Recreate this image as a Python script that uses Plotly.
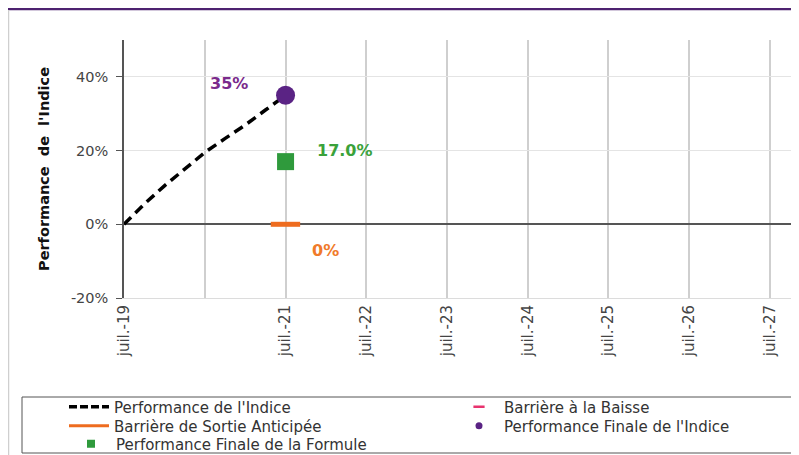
import plotly.graph_objects as go

# Data
index_dates = ["2019-07-01", "2019-10-01", "2020-01-01", "2020-04-01", "2020-07-01",
               "2020-10-01", "2021-01-01", "2021-04-01", "2021-07-01"]
index_perf = [0, 5.5, 10.5, 15.0, 19.5, 23.3, 27.0, 31.0, 35.0]

barrier_exit_dates = ["2021-04-25", "2021-09-05"]
barrier_exit_values = [0, 0]

barrier_down_dates = ["2026-07-01"]
barrier_down_values = [-40]

final_date = ["2021-07-01"]
final_index = [35]
final_formula = [17.0]

tick_vals = ["2019-07-01", "2020-07-01", "2021-07-01", "2022-07-01", "2023-07-01",
             "2024-07-01", "2025-07-01", "2026-07-01", "2027-07-01"]
tick_text = ["juil.-19", "", "juil.-21", "juil.-22", "juil.-23",
             "juil.-24", "juil.-25", "juil.-26", "juil.-27"]

purple = "#5a2384"
green = "#2f9a3c"
orange = "#ee6c1f"
pink = "#e8336e"

# page has an 8px body margin: figure is 791x447, page coords = figure coords + 8
OFF = 8
W, H = 799 - OFF, 455 - OFF
L, R, T = 124 - OFF, 2, 40 - OFF
B = H - (298 - OFF)
PW, PH = W - L - R, H - T - B


def fx(p):
    """page pixel x -> paper x"""
    return (p - OFF - L) / PW


def fy(p):
    """page pixel y -> paper y"""
    return (H - B - (p - OFF)) / PH


fig = go.Figure()
# data traces (legend drawn by proxy entries below)
fig.add_trace(go.Scatter(x=index_dates, y=index_perf, mode="lines", showlegend=False,
                         line=dict(color="black", width=3.5, dash="10px,6px")))
fig.add_trace(go.Scatter(x=barrier_down_dates, y=barrier_down_values, mode="markers", showlegend=False,
                         marker=dict(symbol="line-ew-open", size=9, color=pink,
                                     line=dict(color=pink, width=2.5))))
fig.add_trace(go.Scatter(x=barrier_exit_dates, y=barrier_exit_values, mode="lines", showlegend=False,
                         line=dict(color=orange, width=5)))
fig.add_trace(go.Scatter(x=final_date, y=final_index, mode="markers", showlegend=False,
                         marker=dict(symbol="circle", size=19, color=purple)))
fig.add_trace(go.Scatter(x=final_date, y=final_formula, mode="markers", showlegend=False,
                         marker=dict(symbol="square", size=17, color=green)))

# legend entries, one legend each so that they can be placed like the reference
fig.add_trace(go.Scatter(x=[None], y=[None], mode="lines", name="Performance de l'Indice",
                         legend="legend", line=dict(color="black", width=3.5, dash="8px,3px")))
fig.add_trace(go.Scatter(x=[None], y=[None], mode="lines", name="Barrière de Sortie Anticipée",
                         legend="legend2", line=dict(color=orange, width=3)))
fig.add_trace(go.Scatter(x=[None], y=[None], mode="markers", name="Performance Finale de la Formule",
                         legend="legend3", marker=dict(symbol="square", size=8, color=green)))
fig.add_trace(go.Scatter(x=[None], y=[None], mode="markers", name="Barrière à la Baisse",
                         legend="legend4", marker=dict(symbol="line-ew-open", size=8, color=pink,
                                                       line=dict(color=pink, width=2.5))))
fig.add_trace(go.Scatter(x=[None], y=[None], mode="markers", name="Performance Finale de l'Indice",
                         legend="legend5", marker=dict(symbol="circle", size=7, color=purple)))

lab_font = dict(size=16, family="DejaVu Sans")
fig.add_annotation(x=final_date[0], y=final_index[0], text=f"<b>{final_index[0]:.0f}%</b>",
                   showarrow=False, xshift=-57, yshift=12, font=dict(color="#7a2a8c", **lab_font))
fig.add_annotation(x=final_date[0], y=final_formula[0], text=f"<b>{final_formula[0]:.1f}%</b>",
                   showarrow=False, xshift=59, yshift=11, font=dict(color="#3aa23a", **lab_font))
fig.add_annotation(x=final_date[0], y=barrier_exit_values[0], text=f"<b>{barrier_exit_values[0]:.0f}%</b>",
                   showarrow=False, xshift=40, yshift=-26, font=dict(color="#f07a2a", **lab_font))

# decorative frame
fig.add_shape(type="line", xref="paper", yref="paper", x0=fx(5), x1=fx(810),
              y0=fy(9), y1=fy(9), line=dict(color="#4e2270", width=2.5))
fig.add_shape(type="line", xref="paper", yref="paper", x0=fx(8.5), x1=fx(8.5),
              y0=fy(10), y1=fy(470), line=dict(color="#cfcfcf", width=1.5))
fig.add_shape(type="rect", xref="paper", yref="paper", x0=fx(22), x1=fx(820),
              y0=fy(397), y1=fy(453), line=dict(color="#555", width=1))

legend_common = dict(orientation="v", xanchor="left", yanchor="middle", bgcolor="rgba(0,0,0,0)",
                     borderwidth=0, font=dict(size=15, color="#333"),
                     tracegroupgap=0, itemwidth=40)

fig.update_layout(
    width=W, height=H,
    margin=dict(l=L, r=R, t=T, b=B, autoexpand=False),
    paper_bgcolor="white", plot_bgcolor="white",
    font=dict(family="DejaVu Sans", size=14, color="#444"),
    legend=dict(x=fx(64), y=fy(407), **legend_common),
    legend2=dict(x=fx(64), y=fy(426), **legend_common),
    legend3=dict(x=fx(66), y=fy(444), **legend_common),
    legend4=dict(x=fx(454), y=fy(407), **legend_common),
    legend5=dict(x=fx(454), y=fy(426), **legend_common),
    xaxis=dict(type="date", range=["2019-07-01", "2027-11-01"],
               tickvals=tick_vals, ticktext=tick_text, tickangle=-90,
               showgrid=True, gridcolor="#cfcfcf", gridwidth=1.5,
               showline=True, linecolor="#dcdcdc", linewidth=1,
               ticks="", tickfont=dict(size=15, color="#444"), zeroline=False),
    yaxis=dict(range=[-20, 50], tickvals=[-20, 0, 20, 40],
               ticktext=["-20%", "0%", "20%", "40%"],
               showgrid=True, gridcolor="#e4e4e4", gridwidth=1,
               zeroline=True, zerolinecolor="#555", zerolinewidth=1.5,
               showline=True, linecolor="#555", linewidth=1.5,
               ticks="outside", ticklen=6, tickcolor="#555", ticklabelstandoff=5,
               tickfont=dict(size=14.5, color="#444"),
               title=dict(text="<b>Performance  de  l'Indice</b>", standoff=18,
                          font=dict(size=14.5, color="#111"))),
)

fig.write_html("out.html")
